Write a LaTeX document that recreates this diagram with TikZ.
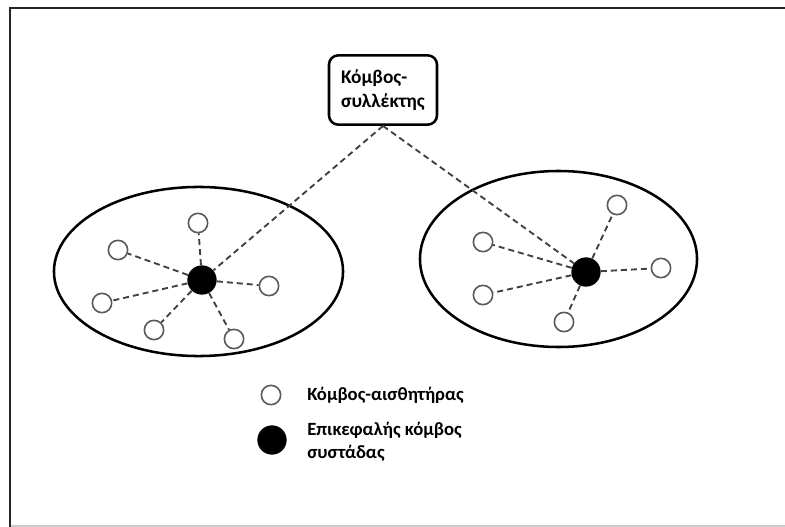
\documentclass[tikz,border=0pt]{standalone}
\usepackage{fontspec}
\setmainfont{Carlito}
\usepackage{tikz}

\tikzset{
    sensor/.style={circle, draw=black!65, line width=1.2pt, fill=white,
        inner sep=0pt, minimum size=14.5pt},
    head/.style={circle, fill=black, inner sep=0pt, minimum size=22pt},
    collector/.style={draw, line width=1.9pt, rounded corners=7pt, align=left,
        minimum width=81pt, minimum height=52pt, inner xsep=6pt,
        font=\bfseries\fontsize{14.5}{18}\selectfont},
    legend/.style={anchor=west, align=left, inner sep=0pt,
        font=\bfseries\fontsize{14}{17.3}\selectfont},
    link/.style={dashed, dash pattern=on 4.5pt off 3pt, draw=black!75, line width=1.4pt},
    cluster/.style={line width=1.9pt}
}

\begin{document}
\begin{tikzpicture}[x=0.75pt, y=-0.75pt]
                \useasboundingbox (0,0) rectangle (785,527);
                \draw[black!85, line width=2pt] (10,527) -- (10,8) -- (785,8);
                \draw[black!20, line width=0.8pt] (11,526) -- (785,526);

                \draw[cluster] (198.5,271.5) ellipse [x radius=108.4pt, y radius=63.4pt];
                \draw[cluster] (558.5,259) ellipse [x radius=103.9pt, y radius=66pt];

                \node[collector] (sink) at (383,90) {Κόμβος-\\συλλέκτης};

                \node[head] (hL) at (202,280) {};
                \node[sensor] (sL1) at (198,223) {};
                \node[sensor] (sL2) at (118,250) {};
                \node[sensor] (sL3) at (269,286) {};
                \node[sensor] (sL4) at (102,303) {};
                \node[sensor] (sL5) at (154,330) {};
                \node[sensor] (sL6) at (234,339) {};

                \node[head] (hR) at (586,272) {};
                \node[sensor] (sR1) at (617,205) {};
                \node[sensor] (sR2) at (483,242) {};
                \node[sensor] (sR3) at (661,268) {};
                \node[sensor] (sR4) at (483,295) {};
                \node[sensor] (sR5) at (564,322) {};

                \draw[link] (sink.south) -- (hL);
                \draw[link] (sink.south) -- (hR);
                \foreach \s in {sL1,sL2,sL3,sL4,sL5,sL6}
                    \draw[link] (hL) -- (\s);
                \foreach \s in {sR1,sR2,sR3,sR4,sR5}
                    \draw[link] (hR) -- (\s);

                \node[sensor] (keyS) at (271,395) {};
                \node[head] (keyH) at (272,440) {};
                \node[legend] (txtS) at (307,395) {Κόμβος-αισθητήρας};
                \node[legend] (txtH) at (307,442) {Επικεφαλής κόμβος\\συστάδας};
            \end{tikzpicture}
\end{document}
